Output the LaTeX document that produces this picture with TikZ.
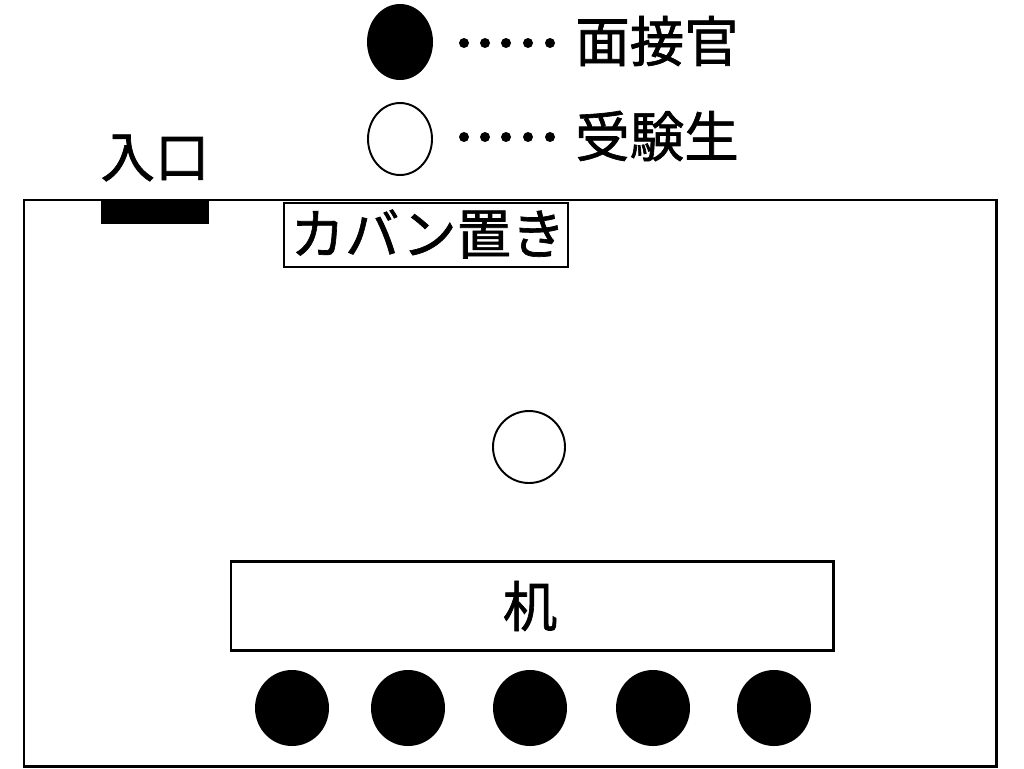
\documentclass[tikz,border=0pt]{standalone}
\usepackage{fontspec}
\newfontfamily\jpfont[FakeBold=1.2]{Noto Sans CJK JP}
\tikzset{
	jptext/.style={inner sep=0pt, font=\jpfont\fontsize{31pt}{31pt}\selectfont},
	wall/.style={draw, line width=1.7pt},
}
\begin{document}
\begin{tikzpicture}[x=0.02cm,y=-0.02cm]
		\useasboundingbox (0,0) rectangle (1024,768);
		% legend
		\fill (400,42) ellipse (33 and 38);
		\draw[line width=1.1pt] (400,139) ellipse (32 and 36);
		\foreach \x in {464,485,506,528,550} {
			\fill (\x,43) circle (5);
			\fill (\x,137) circle (5);
		}
		\node[jptext] (interviewer) at (657,41) {面接官};
		\node[jptext] (examinee) at (657,136) {受験生};
		% room
		\coordinate (a) at (24,200);
		\coordinate (b) at (996,200);
		\coordinate (c) at (996,766);
		\coordinate (d) at (24,766);
		\draw[wall] (a) -- (b) -- (c) -- (d) -- cycle;
		\fill (101,200) rectangle (209,224);
		\node[jptext] (entrance) at (155,158) {入口};
		\draw[line width=1.4pt] (284,203) rectangle (568,267);
		\node[jptext] (bag) at (428,234) {カバン置き};
		\draw[line width=1.1pt] (529,447) circle (36);
		\draw[wall] (231,561) rectangle (833,650);
		\node[jptext] (desk) at (530,606) {机};
		\foreach \x in {292,408,530,653,774}
			\fill (\x,708) ellipse (37 and 38);
	\end{tikzpicture}
\end{document}
